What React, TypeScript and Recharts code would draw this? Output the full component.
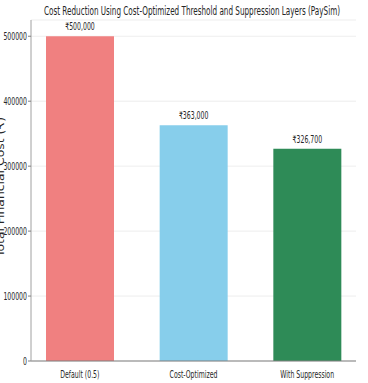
import React from "react"
import { BarChart, Bar, XAxis, YAxis, CartesianGrid, LabelList, Cell } from "recharts"

const categories = ["Default (0.5)", "Cost-Optimized", "With Suppression"]
const costs = [500000, 363000, 326700]
const barColors = ["#F08080", "#87CEEB", "#2E8B57"]
const yTicks = [0, 100000, 200000, 300000, 400000, 500000]

const data = categories.map((name, i) => ({ name, cost: costs[i] }))

const FONT = "DejaVu Sans"
const SQUEEZE = 0.62

const fmtRupee = (v: number) => "₹" + v.toLocaleString("en-US")

function YTick({ x, y, payload }: any) {
  return (
    <text
      transform={`translate(${x},${y + 3.5}) scale(${SQUEEZE},1)`}
      textAnchor="end"
      fontFamily={FONT}
      fontSize={10}
      fill="#262626"
    >
      {payload.value}
    </text>
  )
}

function XTick({ x, y, payload }: any) {
  return (
    <text
      transform={`translate(${x},${y + 9}) scale(${SQUEEZE},1)`}
      textAnchor="middle"
      fontFamily={FONT}
      fontSize={10}
      fill="#262626"
    >
      {payload.value}
    </text>
  )
}

function BarLabel({ x, y, width, value }: any) {
  return (
    <text
      transform={`translate(${x + width / 2},${y - 6}) scale(${SQUEEZE},1)`}
      textAnchor="middle"
      fontFamily={FONT}
      fontSize={10}
      fill="#262626"
    >
      {fmtRupee(value)}
    </text>
  )
}

export default function App() {
  return (
    <div style={{ position: "absolute", left: 0, top: 0, width: 368, height: 383, background: "#fff" }}>
      <BarChart
        width={368}
        height={383}
        data={data}
        margin={{ top: 20, right: 12, bottom: 0, left: 0 }}
      >
        <text
          x={192}
          y={15}
          textAnchor="middle"
          fontFamily={FONT}
          fontSize={12}
          fill="#262626"
          textLength={296}
          lengthAdjust="spacingAndGlyphs"
        >
          Cost Reduction Using Cost-Optimized Threshold and Suppression Layers (PaySim)
        </text>
        <text
          transform="translate(4,187) rotate(-90)"
          textAnchor="middle"
          fontFamily={FONT}
          fontSize={11}
          fill="#262626"
          textLength={140}
          lengthAdjust="spacingAndGlyphs"
        >
          Total Financial Cost (₹)
        </text>
        <CartesianGrid vertical={false} stroke="#e8e8e8" strokeWidth={0.8} />
        <XAxis
          dataKey="name"
          padding={{ left: -8, right: -8 }}
          tick={<XTick />}
          tickLine={false}
          axisLine={{ stroke: "#7f7f7f", strokeWidth: 1 }}
          interval={0}
          height={22}
        />
        <YAxis
          type="number"
          domain={[0, 525000]}
          ticks={yTicks}
          tick={<YTick />}
          tickSize={3}
          tickMargin={1}
          tickLine={{ stroke: "#7f7f7f" }}
          axisLine={{ stroke: "#a0a0a0", strokeWidth: 1 }}
          width={31}
          allowDataOverflow
        />
        <Bar dataKey="cost" barSize={68} isAnimationActive={false}>
          {data.map((d, i) => (
            <Cell key={d.name} fill={barColors[i]} />
          ))}
          <LabelList dataKey="cost" content={<BarLabel />} />
        </Bar>
      </BarChart>
    </div>
  )
}
